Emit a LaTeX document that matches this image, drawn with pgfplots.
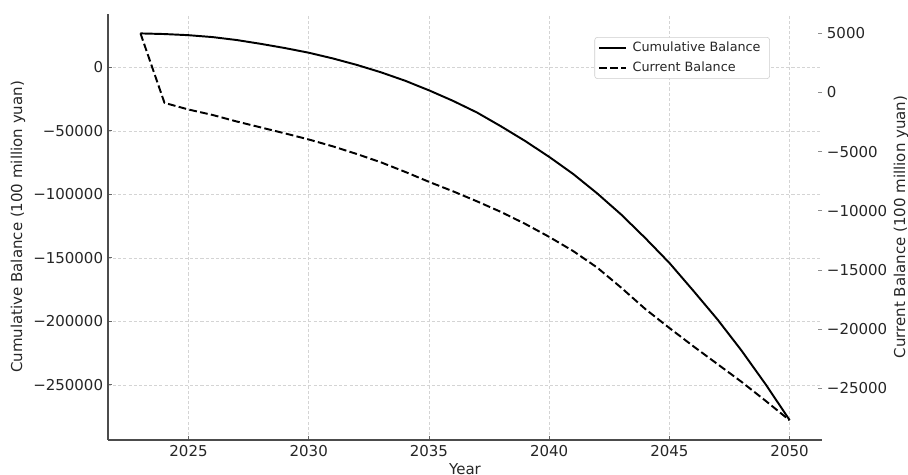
\documentclass[border=0pt]{standalone}
\usepackage{fontspec}
\setmainfont{DejaVu Sans}
\usepackage{pgfplots}
\pgfplotsset{compat=1.18}
\begin{document}
\begin{tikzpicture}
\pgfplotsset{
  common/.style={
    at={(0,0)}, anchor=south west,
    scale only axis, width=514.1pt, height=306.7pt,
    xmin=2021.65, xmax=2051.35,
    scaled ticks=false,
    tick align=inside, major tick length=3pt,
    ticklabel style={font=\fontsize{10.8}{13}\selectfont, text=black!85},
    label style={font=\fontsize{10.8}{13}\selectfont, text=black!85},
  }
}
\begin{axis}[
  common,
  ymin=-293460, ymax=41970,
  axis x line*=bottom, axis y line*=left,
  axis line style={black!70, line width=0.9pt},
  xtick={2025,2030,2035,2040,2045,2050},
  xticklabels={2025,2030,2035,2040,2045,2050},
  ytick={0,-50000,-100000,-150000,-200000,-250000},
  yticklabels={0,−50000,−100000,−150000,−200000,−250000},
  tick style={black!60, line width=0.6pt},
  grid=major,
  grid style={black!17, line width=0.4pt, dash pattern=on 2.2pt off 1.5pt},
  xlabel={Year},
  ylabel={Cumulative Balance (100 million yuan)},
  xlabel style={at={(axis description cs:0.5,-0.068)}, anchor=center},
  ylabel style={at={(axis description cs:-0.1261,0.5)}, anchor=center},
]
\addplot[black, line width=1.4pt, line join=round] coordinates {
(2023,26700) (2024,26200) (2025,25300) (2026,23800) (2027,21500) (2028,18500)
(2029,15200) (2030,11500) (2031,7000) (2032,1900) (2033,-3900) (2034,-10500)
(2035,-18100) (2036,-26400) (2037,-35600) (2038,-46500) (2039,-58000) (2040,-70500)
(2041,-84000) (2042,-99300) (2043,-116000) (2044,-134500) (2045,-154000)
(2046,-176000) (2047,-198500) (2048,-223000) (2049,-249500) (2050,-277700)
};
\end{axis}
\begin{axis}[
  common,
  ymin=-29366, ymax=6630,
  axis x line=none,
  axis y line*=right,
  axis line style={draw=none},
  ytick={5000,0,-5000,-10000,-15000,-20000,-25000},
  yticklabels={5000,0,−5000,−10000,−15000,−20000,−25000},
  tick style={black!45, line width=0.6pt},
  ylabel={Current Balance (100 million yuan)},
  ylabel style={at={(axis description cs:1.1106,0.5)}, anchor=center, rotate=0},
  legend style={at={(axis description cs:0.927,0.946)}, anchor=north east,
    draw=black!20, rounded corners=2pt, fill=white,
    font=\fontsize{9.2}{11}\selectfont, text=black!85,
    inner xsep=2.5pt, inner ysep=1.5pt, row sep=1.8pt, cells={anchor=west},
    nodes={inner xsep=4pt}},
  legend image code/.code={\draw[#1] (0pt,0pt) -- (19.4pt,0pt);},
]
\addlegendimage{black, line width=1.4pt}
\addlegendentry{Cumulative Balance}
\addplot[black, line width=1.4pt, dash pattern=on 5.55pt off 2.4pt, line join=round] coordinates {
(2023,5000) (2024,-880) (2025,-1440) (2026,-1900) (2027,-2450) (2028,-2950)
(2029,-3450) (2030,-3970) (2031,-4550) (2032,-5200) (2033,-5900) (2034,-6700)
(2035,-7550) (2036,-8350) (2037,-9200) (2038,-10100) (2039,-11100) (2040,-12200)
(2041,-13400) (2042,-14800) (2043,-16500) (2044,-18300) (2045,-19900)
(2046,-21450) (2047,-22950) (2048,-24450) (2049,-26050) (2050,-27700)
};
\addlegendentry{Current Balance}
\end{axis}
\pgfresetboundingbox
\useasboundingbox (-77.76pt,-25.2pt) rectangle (576pt,316.8pt);
\end{tikzpicture}
\end{document}
